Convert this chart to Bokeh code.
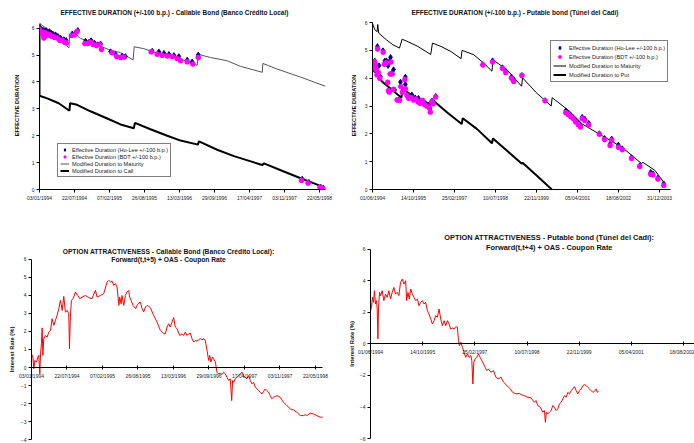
import pandas as pd
from bokeh.plotting import figure
from bokeh.layouts import column, row
from bokeh.models import FixedTicker, Range1d, Legend, LegendItem, Label
from bokeh.embed import file_html
from bokeh.resources import INLINE

FONT = "Liberation Sans"

# ---------------- Top-left: Callable bond (Banco Crédito Local) ----------------
tl_ticks = ["03/01/1994", "22/07/1994", "07/02/1995", "26/08/1995", "13/03/1996",
            "29/09/1996", "17/04/1997", "03/11/1997", "22/05/1998"]
tl_mat_day = [0, 63, 120, 168, 173, 206, 219, 234, 291, 349, 406, 463, 535, 541, 596, 653,
              730, 806, 901, 907, 977, 1072, 1149, 1273, 1276, 1358, 1492, 1634]
tl_mat_dur = [6.18, 5.88, 5.58, 5.27, 5.78, 5.88, 5.70, 5.62, 5.48, 5.33, 5.18, 5.09, 4.82, 5.31,
              5.24, 5.11, 4.99, 4.85, 4.62, 5.03, 4.91, 4.79, 4.58, 4.36, 4.69, 4.48, 4.18, 3.84]
tl_call_day = [0, 0, 44, 110, 171, 175, 215, 291, 387, 463, 539, 545, 634, 730, 806, 905, 911,
               1015, 1111, 1273, 1282, 1396, 1492, 1587, 1634]
tl_call_dur = [6.18, 3.49, 3.39, 3.21, 2.93, 3.21, 3.15, 2.91, 2.64, 2.42, 2.28, 2.48, 2.24, 2.00,
               1.82, 1.67, 1.79, 1.48, 1.24, 0.91, 0.97, 0.67, 0.42, 0.18, 0.02]
tl_holee_day = [0, 10, 19, 29, 38, 48, 57, 67, 76, 91, 105, 120, 139, 152, 187, 206, 219, 263,
                282, 295, 314, 333, 349, 406, 434, 472, 491, 644, 682, 711, 739, 768, 796, 844,
                872, 907, 1501, 1539, 1606, 1621]
tl_holee_dur = [6.04, 5.96, 5.94, 5.90, 5.92, 5.84, 5.88, 5.82, 5.79, 5.76, 5.70, 5.64, 5.58,
                5.55, 5.79, 5.84, 5.92, 5.52, 5.48, 5.54, 5.45, 5.39, 5.42, 5.13, 5.03, 4.97,
                4.95, 5.15, 5.12, 5.07, 5.03, 4.99, 4.95, 4.82, 4.75, 5.01, 0.39, 0.27, 0.10, 0.06]
tl_bdt_day = [0, 6, 15, 21, 25, 30, 40, 53, 63, 72, 86, 101, 116, 130, 143, 154, 183, 200, 215,
              259, 276, 291, 307, 326, 345, 354, 415, 440, 463, 482, 638, 672, 701, 730, 758,
              787, 806, 844, 876, 907, 1497, 1534, 1602, 1617]
tl_bdt_dur = [5.96, 5.88, 5.82, 5.76, 5.64, 5.84, 5.72, 5.78, 5.72, 5.70, 5.66, 5.64, 5.55, 5.55,
              5.48, 5.45, 5.73, 5.75, 5.88, 5.43, 5.43, 5.48, 5.39, 5.36, 5.39, 5.21, 5.09, 4.95,
              4.91, 4.93, 5.12, 5.03, 4.99, 4.97, 4.95, 4.87, 4.79, 4.75, 4.67, 4.91, 0.34, 0.24,
              0.08, 0.04]

# ---------------- Top-right: Putable bond (Túnel del Cadí) ----------------
tr_ticks = ["01/06/1994", "14/10/1995", "25/02/1997", "10/07/1998", "22/11/1999",
            "05/04/2001", "18/08/2002", "31/12/2003"]
tr_mat_day = [0, 28, 56, 64, 76, 169, 249, 329, 361, 433, 554, 710, 731, 835, 955, 1080, 1092,
              1236, 1356, 1457, 1469, 1637, 1818, 1830, 1998, 2179, 2191, 2400, 2560, 2801,
              3042, 3283, 3295, 3443, 3564]
tr_mat_dur = [5.97, 5.74, 5.67, 5.93, 5.62, 5.38, 5.20, 5.08, 5.40, 5.31, 5.14, 4.85, 5.26, 5.14,
              4.96, 4.70, 5.00, 4.84, 4.54, 4.25, 4.66, 4.31, 3.71, 4.01, 3.48, 3.00, 3.30, 2.82,
              2.35, 1.93, 1.52, 0.93, 0.98, 0.69, 0.21]
tr_put_day = [0, 52, 112, 233, 353, 365, 514, 714, 722, 915, 1088, 1100, 1276, 1457, 1469, 1637,
              1818, 1830, 1998, 2187]
tr_put_dur = [4.37, 4.15, 3.89, 3.59, 3.30, 3.63, 3.30, 3.06, 3.24, 2.76, 2.35, 2.56, 2.17, 1.66,
              1.83, 1.40, 0.93, 0.96, 0.51, 0.00]
tr_holee_day = [0, 10, 20, 28, 36, 44, 52, 60, 68, 80, 96, 128, 150, 168, 190, 205, 220, 235,
                257, 270, 320, 341, 370, 401, 401, 440, 480, 520, 560, 600, 640, 680, 700, 725,
                750, 770, 1345, 1465, 1585, 1625, 1694, 1722, 1822, 2104, 2357, 2385, 2417, 2447,
                2477, 2509, 2537, 2557, 2589, 2637, 2766, 2830, 2898, 2917, 2998, 3046, 3158,
                3259, 3392, 3420, 3480, 3552]
tr_holee_dur = [4.29, 4.45, 4.55, 4.62, 4.50, 4.40, 4.20, 5.14, 4.15, 4.45, 4.05, 4.99, 4.62,
                4.63, 4.45, 4.60, 4.75, 4.18, 4.31, 3.58, 3.22, 3.86, 3.52, 4.04, 3.78, 3.35,
                3.40, 3.30, 3.28, 3.18, 3.10, 3.02, 2.90, 3.18, 3.12, 3.35, 4.49, 4.63, 4.38,
                4.25, 4.05, 3.95, 4.10, 3.20, 2.83, 2.75, 2.66, 2.58, 2.48, 2.40, 2.30, 2.60,
                2.53, 2.38, 2.01, 1.84, 1.64, 1.82, 1.60, 1.47, 1.15, 0.86, 0.62, 0.57, 0.41, 0.21]
tr_bdt_day = [0, 8, 15, 22, 30, 38, 46, 55, 62, 72, 88, 130, 145, 165, 185, 195, 205, 215, 225,
              240, 255, 300, 330, 345, 365, 395, 400, 420, 440, 470, 500, 530, 555, 580, 610,
              635, 660, 690, 705, 722, 740, 770, 1345, 1465, 1585, 1625, 1694, 1722, 1822, 2104,
              2357, 2385, 2417, 2447, 2477, 2509, 2537, 2557, 2589, 2637, 2766, 2830, 2898, 2917,
              2998, 3046, 3158, 3259, 3392, 3420, 3480, 3552]
tr_bdt_dur = [4.40, 4.50, 4.35, 4.60, 4.55, 4.45, 4.30, 4.12, 5.05, 4.20, 4.00, 4.93, 4.50, 4.55,
              3.85, 3.55, 3.50, 4.15, 4.58, 4.15, 3.60, 3.22, 3.20, 3.70, 3.50, 3.95, 3.62, 3.38,
              3.28, 3.30, 3.22, 3.25, 3.15, 3.10, 3.20, 3.05, 3.00, 2.95, 2.78, 3.15, 3.08, 3.32,
              4.48, 4.58, 4.35, 4.20, 4.00, 3.88, 4.10, 3.19, 2.76, 2.70, 2.62, 2.55, 2.43, 2.33,
              2.25, 2.55, 2.48, 2.32, 1.99, 1.80, 1.58, 1.78, 1.52, 1.43, 1.12, 0.83, 0.55, 0.52,
              0.38, 0.15]

# ---------------- Bottom-left: option attractiveness, callable ----------------
bl_ticks = tl_ticks
bl_day = [0, 8, 13, 19, 28, 36, 41, 47, 51, 56, 60, 64, 69, 79, 88, 98, 107, 116, 126, 135, 144,
          154, 163, 173, 182, 191, 201, 210, 214, 219, 225, 234, 248, 261, 272, 285, 304, 323,
          341, 360, 370, 388, 407, 426, 435, 445, 454, 463, 473, 482, 492, 497, 505, 510, 520,
          529, 538, 548, 553, 561, 572, 580, 587, 595, 604, 613, 623, 632, 642, 651, 660, 670,
          688, 707, 726, 745, 754, 764, 773, 782, 792, 801, 810, 820, 835, 848, 857, 867, 876,
          885, 895, 904, 914, 923, 932, 942, 951, 961, 970, 979, 989, 998, 1004, 1011, 1019,
          1026, 1036, 1045, 1054, 1064, 1073, 1082, 1092, 1101, 1111, 1120, 1128, 1133, 1139,
          1148, 1158, 1167, 1176, 1186, 1195, 1204, 1214, 1223, 1233, 1242, 1251, 1261, 1270,
          1279, 1289, 1298, 1308, 1317, 1326, 1336, 1345, 1354, 1364, 1373, 1383, 1401, 1411,
          1420, 1439, 1458, 1476, 1495, 1514, 1533, 1542, 1551, 1570, 1589, 1608, 1626, 1640]
bl_rate = [0.76, 0.58, -0.07, 0.39, 0.30, 0.58, 0.67, -0.35, 0.76, 1.32, 2.20, 0.67, 1.60, 1.78,
           1.69, 1.97, 2.06, 2.71, 2.34, 2.62, 2.90, 3.27, 3.73, 3.17, 3.95, 3.08, 3.17, 2.99,
           1.04, 2.80, 3.73, 3.82, 4.19, 4.00, 3.82, 3.91, 4.00, 3.88, 3.82, 4.29, 3.91, 4.00,
           4.10, 4.75, 4.84, 4.75, 4.80, 4.56, 4.66, 4.47, 3.45, 3.91, 3.54, 4.00, 3.45, 4.00,
           4.19, 4.28, 3.91, 3.73, 3.45, 3.36, 3.27, 3.45, 3.58, 3.64, 3.27, 3.08, 3.36, 3.45,
           3.40, 3.32, 2.90, 2.53, 2.06, 1.87, 1.87, 2.25, 2.43, 2.25, 2.53, 2.77, 2.25, 2.16,
           1.78, 1.87, 1.78, 1.97, 1.78, 1.87, 1.91, 1.60, 1.41, 1.50, 1.47, 1.54, 1.60, 1.54,
           1.60, 1.50, 0.95, 0.39, 0.67, 0.30, 0.58, 0.48, 0.30, -0.26, -0.35, -0.32, -0.39,
           -0.26, -0.35, -0.54, -0.72, -0.63, -1.84, -0.72, -0.82, -0.63, -0.54, -0.45, -0.35,
           -0.26, -0.50, -0.54, -0.63, -0.45, -0.72, -0.91, -0.82, -1.09, -1.19, -1.28, -1.37,
           -1.47, -1.32, -1.19, -1.28, -1.37, -1.56, -1.74, -1.65, -1.61, -1.56, -1.65, -1.80,
           -1.93, -2.12, -2.30, -2.36, -2.49, -2.67, -2.67, -2.62, -2.67, -2.54, -2.58, -2.67,
           -2.76, -2.76]

# ---------------- Bottom-right: option attractiveness, putable ----------------
br_ticks = ["01/06/1994", "14/10/1995", "25/02/1997", "10/07/1998", "22/11/1999",
            "05/04/2001", "18/08/2002"]
br_day = [0, 10, 19, 29, 38, 48, 58, 64, 71, 77, 87, 96, 112, 128, 144, 160, 176, 192, 208, 224,
          240, 256, 272, 288, 304, 321, 337, 346, 359, 372, 385, 401, 417, 433, 449, 465, 481,
          497, 513, 529, 545, 561, 577, 593, 609, 625, 641, 657, 673, 689, 705, 721, 737, 753,
          769, 785, 801, 817, 833, 843, 853, 865, 881, 897, 913, 929, 945, 962, 971, 981, 990,
          1003, 1019, 1035, 1051, 1067, 1083, 1099, 1115, 1131, 1154, 1179, 1202, 1224, 1250,
          1276, 1308, 1340, 1362, 1394, 1426, 1442, 1474, 1506, 1538, 1570, 1586, 1603, 1628,
          1651, 1667, 1676, 1686, 1699, 1715, 1731, 1747, 1763, 1779, 1795, 1811, 1827, 1843,
          1859, 1875, 1891, 1907, 1923, 1939, 1955, 1971, 1987, 2003, 2019, 2035, 2051, 2067,
          2083, 2099, 2115, 2131, 2147, 2163, 2173, 2186]
br_rate = [2.11, 2.33, 2.96, 2.64, 3.38, 2.54, 2.75, 2.22, 0.32, 2.33, 3.28, 3.07, 3.38, 2.75,
           3.17, 2.96, 3.38, 2.85, 3.28, 3.59, 3.17, 3.28, 3.07, 3.91, 4.12, 3.80, 4.02, 2.75,
           3.28, 2.85, 3.49, 3.17, 2.96, 2.75, 2.85, 2.43, 2.64, 2.75, 2.54, 2.64, 2.11, 1.90,
           1.59, 1.27, 1.48, 1.80, 1.69, 2.22, 1.59, 1.16, 1.48, 1.16, 1.48, 1.27, 0.95, 1.01,
           0.95, 1.10, 1.06, 0.21, -0.11, 0.11, -0.21, -0.53, -0.85, -0.63, -0.85, -0.74, -1.06,
           -2.54, -1.16, -0.95, -0.85, -0.63, -0.85, -1.06, -1.27, -1.48, -1.69, -1.59, -1.80,
           -1.69, -2.11, -2.22, -2.11, -2.43, -2.64, -2.85, -3.07, -3.17, -3.13, -3.21, -3.28,
           -3.38, -3.42, -3.70, -3.59, -3.91, -4.02, -4.33, -4.23, -4.97, -4.33, -4.44, -4.33,
           -4.23, -3.91, -4.02, -4.23, -4.12, -3.80, -3.70, -3.49, -3.28, -3.38, -3.07, -3.17,
           -2.96, -2.85, -2.71, -2.96, -3.17, -2.96, -2.85, -2.64, -2.58, -2.64, -2.75, -2.85,
           -2.96, -3.07, -3.00, -2.85, -3.07, -3.00]

dur_ticks = [0, 1, 2, 3, 4, 5, 6]
bl_yticks = [-4, -3, -2, -1, 0, 1, 2, 3, 4, 5, 6]
br_yticks = [-6, -4, -2, 0, 2, 4, 6]


def tick_days(labels):
    d = pd.to_datetime(labels, format="%d/%m/%Y")
    return [int((x - d[0]).days) for x in d]


def make_fig(w, h, xr, yr, bl, br, bt, bb, title=None):
    p = figure(width=w, height=h, x_range=Range1d(*xr), y_range=Range1d(*yr),
               output_backend="svg", toolbar_location=None, tools="", title=title,
               min_border_left=bl, min_border_right=br, min_border_top=bt,
               min_border_bottom=bb)
    p.grid.visible = False
    p.outline_line_color = None
    p.background_fill_color = "white"
    p.border_fill_color = "white"
    return p


def style_y(p, ticks, label, size, standoff):
    ax = p.yaxis[0]
    ax.ticker = FixedTicker(ticks=ticks)
    ax.bounds = (min(ticks), max(ticks))
    ax.axis_label = label
    ax.axis_label_text_font = FONT
    ax.axis_label_text_font_size = size
    ax.axis_label_text_font_style = "bold"
    ax.axis_label_text_color = "#111111"
    ax.axis_label_standoff = standoff
    ax.major_label_text_font = FONT
    ax.major_label_text_font_size = "5px"
    ax.major_label_text_color = "#222222"
    ax.major_label_standoff = 2
    ax.major_tick_out = 3
    ax.major_tick_in = 0
    ax.minor_tick_out = 0
    ax.minor_tick_in = 0
    ax.axis_line_color = "black"
    ax.major_tick_line_color = "black"
    return ax


def style_x(p, labels, tick_in=0, tick_out=3, standoff=2):
    days = tick_days(labels)
    ax = p.xaxis[0]
    ax.ticker = FixedTicker(ticks=days)
    ax.major_label_overrides = {d: s for d, s in zip(days, labels)}
    ax.major_label_text_font = FONT
    ax.major_label_text_font_size = "5px"
    ax.major_label_text_color = "#222222"
    ax.major_label_standoff = standoff
    ax.major_tick_out = tick_out
    ax.major_tick_in = tick_in
    ax.minor_tick_out = 0
    ax.minor_tick_in = 0
    ax.axis_line_color = "black"
    ax.major_tick_line_color = "black"
    return ax


def style_title(p, text, offset, standoff):
    p.title.text = text
    p.title.align = "left"
    p.title.offset = offset
    p.title.standoff = standoff
    p.title.text_font = FONT
    p.title.text_font_size = "6.5px"
    p.title.text_font_style = "bold"
    p.title.text_color = "#111111"


def add_legend(p, items, loc, gw, gh):
    lg = Legend(items=[LegendItem(label=l, renderers=[r]) for l, r in items],
                location=loc, orientation="vertical")
    lg.label_text_font = FONT
    lg.label_text_font_size = "5.6px"
    lg.label_text_color = "#222222"
    lg.label_height = gh
    lg.glyph_height = gh
    lg.glyph_width = gw
    lg.label_standoff = 3
    lg.spacing = 0
    lg.padding = 2
    lg.margin = 0
    lg.border_line_color = "black"
    lg.border_line_width = 1
    lg.background_fill_color = "white"
    lg.background_fill_alpha = 1
    p.add_layout(lg)


# ---------- p1 ----------
p1 = make_fig(347, 217, (0, 1634), (0, 6.25), 39, 22, 18, 27, title="")
style_title(p1, "EFFECTIVE DURATION (+/-100 b.p.) - Callable Bond (Banco Crédito Local)", 21, 12)
style_y(p1, dur_ticks, "EFFECTIVE DURATION", "5.6px", 9)
style_x(p1, tl_ticks)
r_mat = p1.line(tl_mat_day, tl_mat_dur, line_color="#555555", line_width=1)
r_call = p1.line(tl_call_day, tl_call_dur, line_color="black", line_width=2)
r_hl = p1.scatter(tl_holee_day, tl_holee_dur, marker="diamond", size=5.5,
                  fill_color="#000080", line_color="#000080")
r_bdt = p1.scatter(tl_bdt_day, tl_bdt_dur, marker="asterisk", size=5.5,
                   line_color="#FF00FF", line_width=1.8)
add_legend(p1, [("Effective Duration (Ho-Lee +/-100 b.p.)", r_hl),
                ("Effective Duration (BDT +/-100 b.p.)", r_bdt),
                ("Modified Duration to Maturity", r_mat),
                ("Modified Duration to Call", r_call)], (18, 12), 9, 7)

# ---------- p2 ----------
p2 = make_fig(347, 217, (0, 3634), (0, 6.036), 21, 24, 20, 28, title="")
style_title(p2, "EFFECTIVE DURATION (+/-100 b.p.) - Putable bond (Túnel del Cadí)", 39, 12)
style_y(p2, dur_ticks, "EFFECTIVE DURATION", "5.6px", 5)
style_x(p2, tr_ticks)
r_mat2 = p2.line(tr_mat_day, tr_mat_dur, line_color="black", line_width=1)
r_put = p2.line(tr_put_day, tr_put_dur, line_color="black", line_width=2)
r_hl2 = p2.scatter(tr_holee_day, tr_holee_dur, marker="diamond", size=5.5,
                   fill_color="#000080", line_color="#000080")
r_bdt2 = p2.scatter(tr_bdt_day, tr_bdt_dur, marker="asterisk", size=5.5,
                    line_color="#FF00FF", line_width=1.8)
add_legend(p2, [("Effective Duration (Ho-Lee +/-100 b.p.)", r_hl2),
                ("Effective Duration (BDT +/-100 b.p.)", r_bdt2),
                ("Modified Duration to Maturity", r_mat2),
                ("Modified Duration to Put", r_put)], (178, 107), 13, 9)


def add_title_lines(p, lines, x, ys, size):
    for t, y in zip(lines, ys):
        p.add_layout(Label(x=x, y=y, text=t, text_align="center", text_baseline="middle",
                           text_font=FONT, text_font_size=size, text_font_style="bold",
                           text_color="#111111"))


# ---------- p3 (frame fills the whole figure; axes fixed at day 0 / rate 0) ----------
p3 = make_fig(347, 226, (-174.6, 1780.3), (-4.222, 8.333), 0, 0, 0, 0)
ay3 = style_y(p3, bl_yticks, "Interest Rate (%)", "5.8px", 3)
ay3.fixed_location = 0
ax3 = style_x(p3, bl_ticks, tick_in=2, tick_out=2, standoff=3)
ax3.fixed_location = 0
ax3.bounds = (0, 1639)
p3.line(bl_day, bl_rate, line_color="#FF0000", line_width=1)
add_title_lines(p3, ["OPTION ATTRACTIVENESS - Callable Bond (Banco Crédito Local):",
                     "Forward(t,t+5) + OAS - Coupon Rate"], 772, [6.44, 6.0], "6.7px")

# ---------- p4 ----------
p4 = make_fig(347, 226, (-220.4, 3105), (-6.317, 8.03), 0, 0, 0, 0)
ay4 = style_y(p4, br_yticks, "Interest Rate (%)", "5.8px", 2)
ay4.fixed_location = 0
ax4 = style_x(p4, br_ticks, tick_in=2, tick_out=2, standoff=3)
ax4.fixed_location = 0
ax4.bounds = (0, 3105)
p4.line(br_day, br_rate, line_color="#FF0000", line_width=1)
add_title_lines(p4, ["OPTION ATTRACTIVENESS - Putable bond (Túnel del Cadí):",
                     "Forward(t,t+4) + OAS - Coupon Rate"], 1713, [6.76, 6.125], "7.4px")

layout = column(row(p1, p2), row(p3, p4))
open("out.html", "w").write(file_html(layout, INLINE))
